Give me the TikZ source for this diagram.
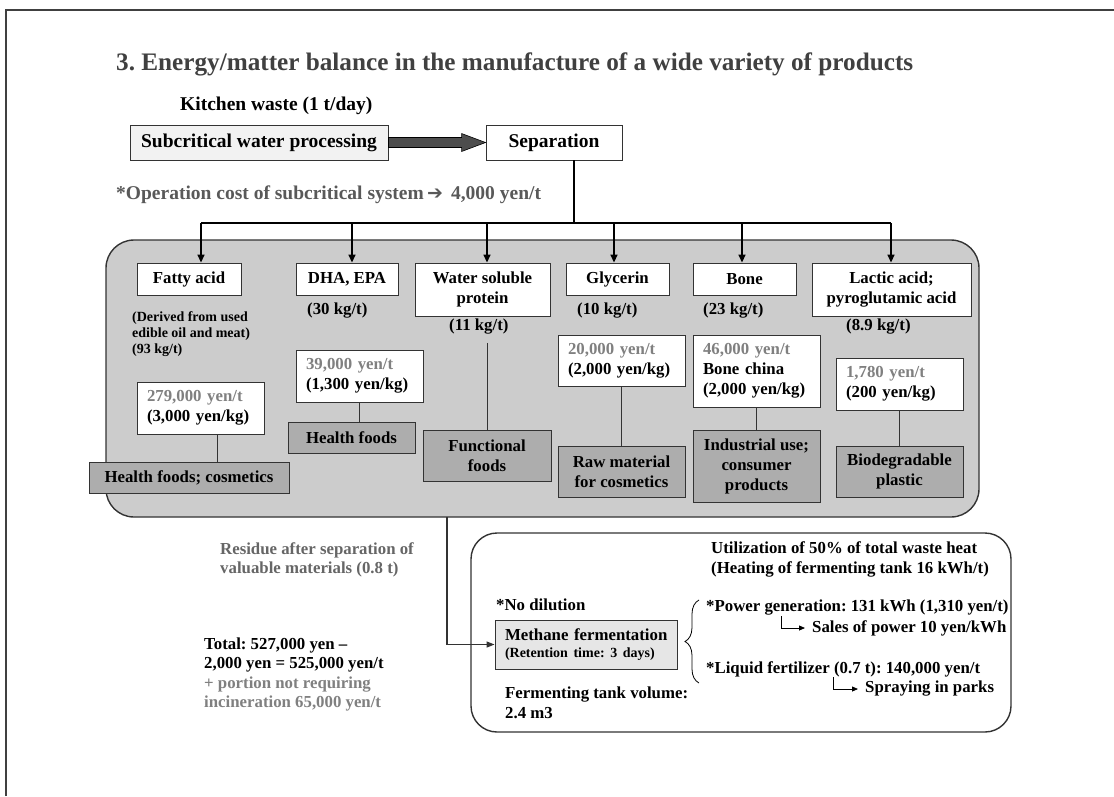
\documentclass[tikz,border=0pt]{standalone}
\usepackage{fontspec}
\setmainfont{Liberation Serif}
\newfontfamily\symfont{DejaVu Sans}
\usetikzlibrary{arrows.meta,decorations.pathreplacing,calc}
\frenchspacing

\definecolor{titlegray}{HTML}{404040}
\definecolor{notegray}{HTML}{595959}
\definecolor{pricegray}{HTML}{808080}
\definecolor{residuegray}{HTML}{666666}
\definecolor{panelgray}{HTML}{CCCCCC}
\definecolor{prodgray}{HTML}{ADADAD}
\definecolor{subfill}{HTML}{F2F2F2}
\definecolor{methfill}{HTML}{E6E6E6}
\definecolor{edgegray}{HTML}{333333}
\definecolor{arrowfill}{HTML}{4D4D4D}

\newcommand\szT{\fontsize{25.2pt}{29pt}\selectfont}
\newcommand\szL{\fontsize{19.5pt}{23pt}\selectfont}
\newcommand\szM{\fontsize{16.8pt}{20pt}\selectfont}
\newcommand\szS{\fontsize{14pt}{16pt}\selectfont}

\begin{document}
\begin{tikzpicture}[x=1pt,y=-1pt,
  every node/.style={inner sep=0pt, font=\bfseries\szM},
  txt/.style={anchor=west, align=left},
  lbl/.style={draw=edgegray, line width=0.9pt, fill=white, align=center},
  price/.style={draw=edgegray, line width=0.9pt, fill=white, align=left,
    inner xsep=10pt, text width=107pt},
  prod/.style={draw=edgegray, line width=0.9pt, fill=prodgray, align=center},
  panel/.style={draw=edgegray, line width=1.4pt, rounded corners=28pt},
  bus/.style={draw=black, line width=1.5pt},
  busarrow/.style={bus, -{Triangle[length=8pt,width=7pt]}},
  link/.style={draw=edgegray, line width=1pt},
  hook/.style={draw=black, line width=0.8pt, -{Triangle[length=6pt,width=5pt]}},
  bigarrow/.style={draw=black, line width=0.6pt, fill=arrowfill},
  brace/.style={draw=black, line width=0.8pt, decorate,
    decoration={brace, amplitude=14pt}}
]
\useasboundingbox (0,0) rectangle (1114,796);
\fill[white] (0,0) rectangle (1114,796);

% page frame
\coordinate (fr0) at (6,796);
\coordinate (fr1) at (6,10);
\coordinate (fr2) at (1114,10);
\draw[titlegray, line width=1.8pt] (fr0) -- (fr1) -- (fr2);

% heading
\node[anchor=base west, font=\bfseries\szT, text=titlegray] (title) at (116,70)
  {3. Energy/matter balance in the manufacture of a wide variety of products};
\node[anchor=base west, font=\bfseries\szL] (kitchen) at (180,110) {Kitchen waste (1 t/day)};

% processing line
\node[lbl, fill=subfill, font=\bfseries\szL, minimum width=258pt, minimum height=35pt]
  (sub) at (259,142.5) {Subcritical water processing};
\node[lbl, font=\bfseries\szL, minimum width=136pt, minimum height=35pt]
  (sep) at (554,142.5) {Separation};
\draw[bigarrow] ([yshift=5pt]sub.east) -- ([xshift=-24pt,yshift=5pt]sep.west)
  -- ([xshift=-24pt,yshift=9pt]sep.west) -- (sep.west)
  -- ([xshift=-24pt,yshift=-9pt]sep.west) -- ([xshift=-24pt,yshift=-5pt]sep.west)
  -- ([yshift=-5pt]sub.east) -- cycle;

\node[anchor=base west, font=\bfseries\szL, text=notegray] (opcost) at (116,199)
  {*Operation cost of subcritical system\,{\symfont\fontsize{19pt}{19pt}\selectfont ➔}\, 4,000 yen/t};

% products panel
\node[panel, fill=panelgray, minimum width=873pt, minimum height=277pt] (group) at (542.5,378.5) {};

% distribution bus
\coordinate (s0) at (574,160);
\coordinate (bus) at (574,223);
\coordinate (bL) at (201,223);
\coordinate (bR) at (891,223);
\draw[bus] (s0) -- (bus);
\draw[bus] (bL) -- (bR);

% separated components
\node[lbl, minimum width=104pt, minimum height=32pt] (fa) at (189,279) {Fatty acid};
\node[lbl, minimum width=102pt, minimum height=32pt] (dha) at (347,279) {DHA, EPA};
\node[lbl, minimum width=135pt, minimum height=53pt] (wsp) at (482.5,289.5) {Water soluble\\protein};
\node[lbl, minimum width=103pt, minimum height=32pt] (gly) at (617.5,279) {Glycerin};
\node[lbl, minimum width=103pt, minimum height=32pt] (bone) at (744.5,279) {Bone};
\node[lbl, minimum width=159pt, minimum height=53pt] (lac) at (891.5,289.5) {Lactic acid;\\pyroglutamic acid};

\coordinate (bk1) at (201,223);
\coordinate (bk2) at (352,223);
\coordinate (bk3) at (487,223);
\coordinate (bk4) at (614,223);
\coordinate (bk5) at (742,223);
\coordinate (bk6) at (891,223);
\draw[busarrow] (bk1) -- (bk1 |- fa.north);
\draw[busarrow] (bk2) -- (bk2 |- dha.north);
\draw[busarrow] (bk3) -- (bk3 |- wsp.north);
\draw[busarrow] (bk4) -- (bk4 |- gly.north);
\draw[busarrow] (bk5) -- (bk5 |- bone.north);
\draw[busarrow] (bk6) -- (bk6 |- lac.north);

% yields
\node[txt, font=\bfseries\fontsize{14pt}{16pt}\selectfont] (k1) at (132,334)
  {(Derived from used\\edible oil and meat)\\(93 kg/t)};
\node[txt] (k2) at (307,311) {(30 kg/t)};
\node[txt] (k3) at (449,327) {(11 kg/t)};
\node[txt] (k4) at (577,311) {(10 kg/t)};
\node[txt] (k5) at (703,311) {(23 kg/t)};
\node[txt] (k6) at (846,327) {(8.9 kg/t)};

% prices
\node[price, minimum height=52pt] (p1) at (200.5,408)
  {\textcolor{pricegray}{279,000 yen/t}\\(3,000 yen/kg)};
\node[price, minimum height=52pt] (p2) at (359.5,376)
  {\textcolor{pricegray}{39,000 yen/t}\\(1,300 yen/kg)};
\node[price, minimum height=51pt] (p4) at (621.5,360.5)
  {\textcolor{pricegray}{20,000 yen/t}\\(2,000 yen/kg)};
\node[price, minimum height=72pt] (p5) at (756.5,371)
  {\textcolor{pricegray}{46,000 yen/t}\\Bone china\\(2,000 yen/kg)};
\node[price, minimum height=52pt] (p6) at (899.5,384)
  {\textcolor{pricegray}{1,780 yen/t}\\(200 yen/kg)};

% uses
\node[prod, minimum width=200pt, minimum height=31pt] (u1) at (189,477.5) {Health foods; cosmetics};
\node[prod, minimum width=127pt, minimum height=31pt] (u2) at (351.5,437.5) {Health foods};
\node[prod, minimum width=128pt, minimum height=51pt] (u3) at (487,455.5) {Functional\\foods};
\node[prod, minimum width=127pt, minimum height=51pt] (u4) at (621.5,471.5) {Raw material\\for cosmetics};
\node[prod, minimum width=127pt, minimum height=72pt] (u5) at (756.5,466) {Industrial use;\\consumer\\products};
\node[prod, minimum width=127pt, minimum height=51pt] (u6) at (899.5,471.5) {Biodegradable\\plastic};

\draw[link] ([xshift=16.5pt]p1.south) -- ([xshift=16.5pt]p1.south |- u1.north);
\draw[link] (p2.south) -- (p2.south |- u2.north);
\draw[link] ([yshift=-8pt]k3.south -| u3.north) -- (u3.north);
\draw[link] (p4.south) -- (p4.south |- u4.north);
\draw[link] (p5.south) -- (p5.south |- u5.north);
\draw[link] (p6.south) -- (p6.south |- u6.north);

% residue and totals
\node[txt, text=residuegray, font=\bfseries\fontsize{16.8pt}{19.5pt}\selectfont] (residue) at (220,560)
  {Residue after separation of\\valuable materials (0.8 t)};
\node[txt, font=\bfseries\fontsize{16.8pt}{19.5pt}\selectfont] (total) at (204,674.5)
  {Total: 527,000 yen –\\2,000 yen = 525,000 yen/t\\
   \textcolor{pricegray}{+ portion not requiring}\\
   \textcolor{pricegray}{incineration 65,000 yen/t}};

% methane fermentation panel
\node[panel, fill=white, rounded corners=26pt, minimum width=540pt, minimum height=199pt] (lower) at (741,632.5) {};
\node[price, fill=methfill, inner xsep=6pt, text width=170pt, minimum height=49pt,
  font=\bfseries\fontsize{16.8pt}{17pt}\selectfont] (meth) at (586,644.5)
  {\hspace*{4pt}Methane fermentation\\\hspace*{4pt}{\fontsize{14pt}{17pt}\selectfont (Retention time: 3 days)}};

\coordinate (r0) at (447,517);
\draw[link, line width=1.2pt, -{Triangle[length=8pt,width=6pt]}] (r0) |- (meth.west);

\node[txt] (nodil) at (496,605) {*No dilution};
\node[txt] (util) at (711,559) {Utilization of 50\% of total waste heat\\(Heating of fermenting tank 16 kWh/t)};
\node[txt] (ferm) at (505,702.5) {Fermenting tank volume:\\2.4 m3};

\coordinate (br0) at (699,683);
\coordinate (br1) at (699,600);
\draw[brace] (br0) -- (br1);

\node[txt] (pg) at (706,608) {*Power generation: 131 kWh (1,310 yen/t)};
\node[txt] (sales) at (812,628) {Sales of power 10 yen/kWh};
\node[txt] (lf) at (706,669) {*Liquid fertilizer (0.7 t): 140,000 yen/t};
\node[txt] (spray) at (865,689) {Spraying in parks};

\coordinate (h1) at (781,616);
\coordinate (h2) at (833,677);
\draw[hook] (h1) |- ([xshift=-7pt]sales.west);
\draw[hook] (h2) |- ([xshift=-7pt]spray.west);
\end{tikzpicture}
\end{document}
